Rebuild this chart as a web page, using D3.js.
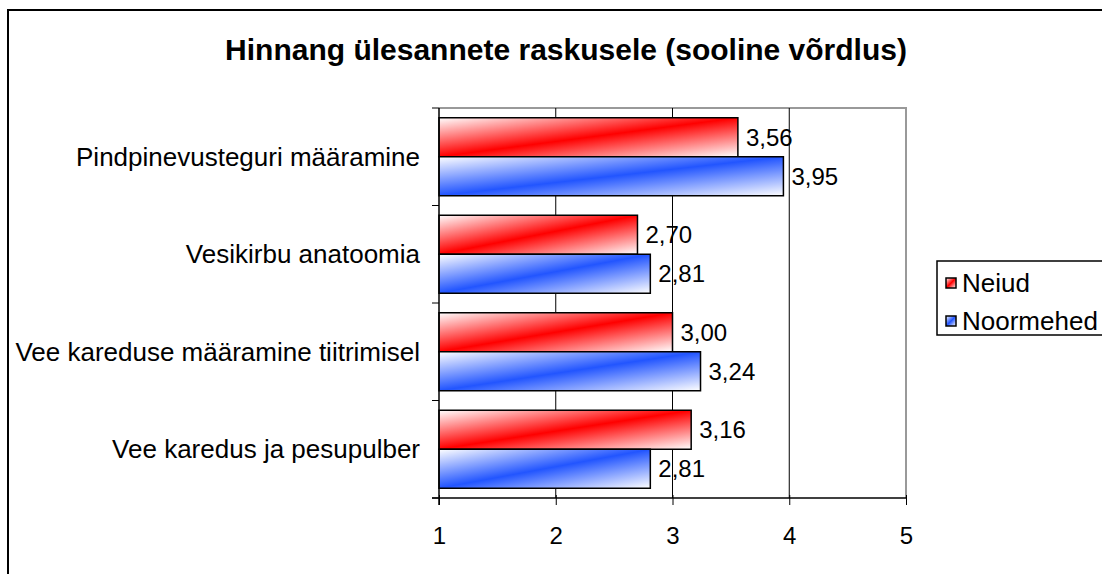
<!DOCTYPE html>
<html><head><meta charset="utf-8">
<script src="https://cdn.jsdelivr.net/npm/d3@7"></script>
<style>body{margin:0;background:#fff}svg{display:block;font-family:"Liberation Sans",Arial,sans-serif}</style>
</head><body>
<svg id="c" width="1102" height="574"></svg>
<script>
const title = "Hinnang ülesannete raskusele (sooline võrdlus)";
const categories = ["Pindpinevusteguri määramine","Vesikirbu anatoomia","Vee kareduse määramine tiitrimisel","Vee karedus ja pesupulber"];
const seriesNames = ["Neiud","Noormehed"];
const neiud = [3.56, 2.70, 3.00, 3.16];
const noormehed = [3.95, 2.81, 3.24, 2.81];
const xTicks = [1,2,3,4,5];
const seriesColors = ["#ff0000","#2255ff"];

const svg = d3.select("#c");
const defs = svg.append("defs");
seriesColors.forEach((c,i)=>{
  const g = defs.append("linearGradient").attr("id","g"+i)
    .attr("x1",0).attr("y1",0).attr("x2",1).attr("y2",1);
  g.append("stop").attr("offset",0).attr("stop-color","#fff");
  g.append("stop").attr("offset",0.5).attr("stop-color",c);
  g.append("stop").attr("offset",1).attr("stop-color","#fff");
});

svg.append("rect").attr("x",8).attr("y",10).attr("width",1200).attr("height",600)
  .attr("fill","#fff").attr("stroke","#000").attr("stroke-width",2);

svg.append("text").attr("x",566).attr("y",60).attr("text-anchor","middle")
  .attr("font-weight","bold").attr("font-size",30).text(title);

const L=439,R=906,T=108,B=498;
const x = d3.scaleLinear().domain([1,5]).range([L,R]);
const y = d3.scaleBand().domain(categories).range([T,B]).paddingInner(0.2).paddingOuter(0.1);
const yi = d3.scaleBand().domain(seriesNames).range([0,y.bandwidth()]);

svg.append("path").attr("d",`M${L},${T}H${R}V${B}`).attr("fill","none").attr("stroke","#999").attr("stroke-width",2);
svg.append("g").selectAll("line").data(xTicks.filter(t=>t>1&&t<5)).join("line")
  .attr("x1",d=>x(d)).attr("x2",d=>x(d)).attr("y1",T).attr("y2",B).attr("stroke","#000").attr("stroke-width",1);

const data = categories.map((c,i)=>({cat:c, vals:[neiud[i],noormehed[i]]}));
const grp = svg.append("g").selectAll("g").data(data).join("g").attr("transform",d=>`translate(0,${y(d.cat)})`);
grp.selectAll("rect").data(d=>d.vals.map((v,j)=>({v,j}))).join("rect")
  .attr("x",x(1)).attr("y",d=>yi(seriesNames[d.j]))
  .attr("width",d=>x(d.v)-x(1)).attr("height",yi.bandwidth())
  .attr("fill",d=>`url(#g${d.j})`).attr("stroke","#000").attr("stroke-width",1.5);
grp.selectAll("text").data(d=>d.vals.map((v,j)=>({v,j}))).join("text")
  .attr("x",d=>x(d.v)+8).attr("y",d=>yi(seriesNames[d.j])+yi.bandwidth()/2)
  .attr("dy","0.35em").attr("font-size",24).text(d=>d.v.toFixed(2).replace(".",","));

const xa = svg.append("g").attr("transform",`translate(0,${B})`)
  .call(d3.axisBottom(x).tickValues(xTicks).tickSize(7).tickFormat(d=>d));
xa.select(".domain").remove();
xa.selectAll(".tick line").attr("y1",-3).attr("stroke","#000");
xa.selectAll(".tick text").attr("font-size",24).attr("y",29).attr("font-family","Liberation Sans, Arial, sans-serif");
svg.append("line").attr("x1",432).attr("x2",R).attr("y1",B).attr("y2",B).attr("stroke","#000").attr("stroke-width",1.5);

svg.append("line").attr("x1",L).attr("x2",L).attr("y1",T).attr("y2",B+7).attr("stroke","#000").attr("stroke-width",1.5);
const bounds = categories.map(c=>y(c)-y.step()*y.paddingInner()/2).concat([B]);
bounds[0]=T;
svg.append("g").selectAll("line").data(bounds).join("line")
  .attr("x1",432).attr("x2",L).attr("y1",d=>d).attr("y2",d=>d).attr("stroke","#000");
svg.append("g").selectAll("text").data(categories).join("text")
  .attr("x",420).attr("y",d=>y(d)+y.bandwidth()/2).attr("dy","0.35em")
  .attr("text-anchor","end").attr("font-size",26).text(d=>d);

const lg = svg.append("g");
lg.append("rect").attr("x",937).attr("y",261).attr("width",200).attr("height",74)
  .attr("fill","#fff").attr("stroke","#000").attr("stroke-width",1.5);
seriesNames.forEach((s,i)=>{
  const yy = 283 + i*38;
  lg.append("rect").attr("x",946).attr("y",yy-5).attr("width",10).attr("height",10)
    .attr("fill",`url(#g${i})`).attr("stroke","#000").attr("stroke-width",1.5);
  lg.append("text").attr("x",962).attr("y",yy).attr("dy","0.35em").attr("font-size",26).text(s);
});
</script>
</body></html>
